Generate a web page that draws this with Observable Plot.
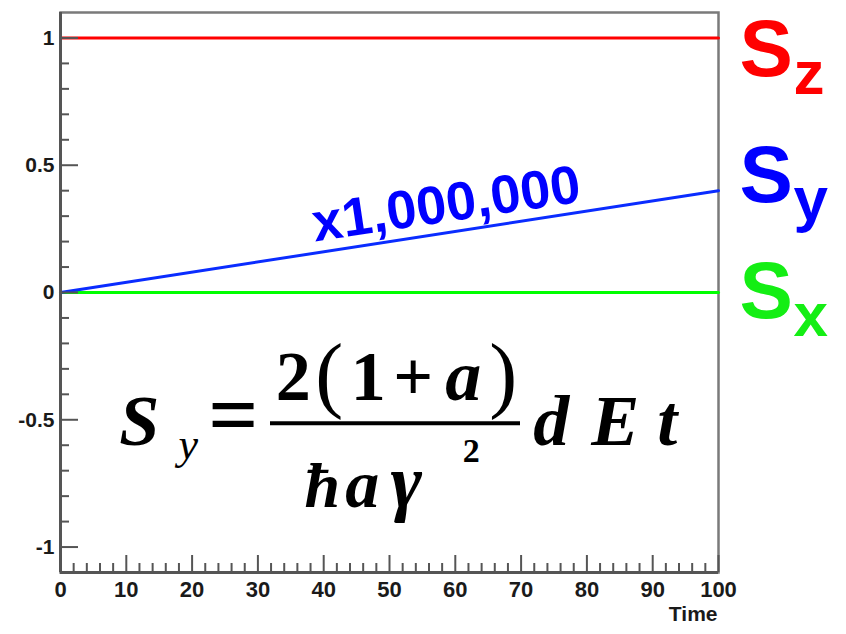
<!DOCTYPE html>
<html>
<head>
<meta charset="utf-8">
<script src="https://cdn.jsdelivr.net/npm/d3@7"></script>
<script src="https://cdn.jsdelivr.net/npm/@observablehq/plot@0.6"></script>
<style>
  html, body { margin: 0; padding: 0; background: #fff; }
  #chart { width: 846px; height: 634px; }
</style>
</head>
<body>
<div id="chart"></div>
<script>
// ---- data ----
const time = [0, 100];
const spinZ = [1, 1];
const spinY = [0, 0.4];
const spinX = [0, 0];
const seriesNames = ["z", "y", "x"];
const seriesColors = ["#ff0000", "#0a2cff", "#00ff00"];
const labelColors = ["#ff0000", "#0000ff", "#14ee14"];
const labelBaselineY = [0.852, 0.354, -0.102];
const syScaleNote = "x1,000,000";

const xMajor = [0, 10, 20, 30, 40, 50, 60, 70, 80, 90, 100];
const xMinor = [2, 4, 6, 8, 12, 14, 16, 18, 22, 24, 26, 28, 32, 34, 36, 38,
  42, 44, 46, 48, 52, 54, 56, 58, 62, 64, 66, 68, 72, 74, 76, 78,
  82, 84, 86, 88, 92, 94, 96, 98];
const yMajor = [-1, -0.5, 0, 0.5, 1];
const yMinor = [-0.9, -0.8, -0.7, -0.6, -0.4, -0.3, -0.2, -0.1,
  0.1, 0.2, 0.3, 0.4, 0.6, 0.7, 0.8, 0.9];
const xTitle = "Time";

const toRows = (vals) => time.map((t, i) => ({t, v: vals[i]}));

const SANS = "'Liberation Sans', Arial, Helvetica, sans-serif";
const SERIF = "'Liberation Serif', 'Times New Roman', Times, serif";

// formula anchor (data units) and pieces
const formulaAnchor = [{x: 10, y: -0.6}];
function piece(text, dx, dy, size, weight, style) {
  return Plot.text(formulaAnchor, {
    x: "x", y: "y", text: () => text, dx, dy,
    textAnchor: "middle", lineAnchor: "bottom",
    fontSize: size, fontWeight: weight, fontStyle: style,
    fontFamily: SERIF, fill: "#000"
  });
}

const AXIS = "#555";

const plot = Plot.plot({
  width: 846,
  height: 634,
  marginLeft: 60,
  marginRight: 128,
  marginTop: 12,
  marginBottom: 62,
  style: {fontFamily: SANS, background: "#fff", overflow: "visible"},
  x: {domain: [0, 100], axis: null},
  y: {domain: [-1.1, 1.1], axis: null},
  marks: [
    Plot.frame({stroke: "#7a7a7a", strokeWidth: 2.5}),
    // series lines
    Plot.line(toRows(spinX), {x: "t", y: "v", stroke: seriesColors[2], strokeWidth: 3}),
    Plot.line(toRows(spinY), {x: "t", y: "v", stroke: seriesColors[1], strokeWidth: 3}),
    Plot.line(toRows(spinZ), {x: "t", y: "v", stroke: seriesColors[0], strokeWidth: 3}),
    // axis lines
    Plot.ruleX([0], {stroke: AXIS, strokeWidth: 3}),
    Plot.ruleY([-1.1], {stroke: AXIS, strokeWidth: 3}),
    // ticks
    Plot.tickY(yMajor, {y: d => d, stroke: AXIS, strokeWidth: 2, insetRight: 640}),
    Plot.tickY(yMinor, {y: d => d, stroke: AXIS, strokeWidth: 2, insetRight: 649}),
    Plot.tickX(xMajor, {x: d => d, stroke: AXIS, strokeWidth: 2, insetTop: 543}),
    Plot.tickX(xMinor, {x: d => d, stroke: AXIS, strokeWidth: 2, insetTop: 551}),
    // tick labels
    Plot.text(yMajor, {y: d => d, frameAnchor: "left", text: d => String(d),
      textAnchor: "end", dx: -6, fontSize: 21, fontWeight: "bold", fill: "#1a1a1a"}),
    Plot.text(xMajor, {x: d => d, frameAnchor: "bottom", text: d => String(d),
      lineAnchor: "top", dy: 9, fontSize: 22, fontWeight: "bold", fill: "#1a1a1a"}),
    Plot.text([xTitle], {frameAnchor: "bottom-right", text: d => d,
      textAnchor: "end", lineAnchor: "bottom", dy: 48, dx: -1,
      fontSize: 21, fontWeight: "bold", fill: "#1a1a1a"}),
    // series labels on the right
    Plot.text(seriesNames, {y: (d, i) => labelBaselineY[i], frameAnchor: "right",
      text: () => "S", textAnchor: "start", lineAnchor: "bottom", dx: 21,
      fontSize: 80, fontWeight: "bold", fill: (d, i) => labelColors[i]}),
    Plot.text(seriesNames, {y: (d, i) => labelBaselineY[i], frameAnchor: "right",
      text: d => d, textAnchor: "start", lineAnchor: "bottom", dx: 75, dy: 18,
      fontSize: 62, fontWeight: "bold", fill: (d, i) => labelColors[i]}),
    // scale note on the Sy line
    Plot.text([syScaleNote], {x: 59, y: 0.279, text: d => d, rotate: -8.5,
      textAnchor: "middle", lineAnchor: "bottom", fontSize: 54,
      fontWeight: "bold", fill: "#0000ff"}),
    // formula
    piece("S", 13, 0, 72, "bold", "italic"),
    piece("y", 62, 14, 44, "normal", "italic"),
    piece("=", 107, 0, 88, "bold", "normal"),
    piece("2", 167, -45, 70, "bold", "normal"),
    piece("(", 203, -43, 84, "normal", "normal"),
    piece("1", 242, -45, 70, "bold", "normal"),
    piece("+", 287, -45, 70, "bold", "normal"),
    piece("a", 337, -45, 72, "bold", "italic"),
    piece(")", 377, -43, 84, "normal", "normal"),
    Plot.ruleY(formulaAnchor, {y: "y", dy: -22, insetLeft: 210, insetRight: 198,
      stroke: "#000", strokeWidth: 4}),
    piece("ħ", 196, 62, 64, "bold", "italic"),
    piece("a", 236, 62, 68, "bold", "italic"),
    piece("γ", 280, 62, 76, "bold", "italic"),
    piece("2", 345, 17, 34, "bold", "normal"),
    piece("d", 425, 0, 72, "bold", "italic"),
    piece("E", 489, 0, 72, "bold", "italic"),
    piece("t", 541, 0, 72, "bold", "italic")
  ]
});
document.getElementById("chart").appendChild(plot);
</script>
</body>
</html>
